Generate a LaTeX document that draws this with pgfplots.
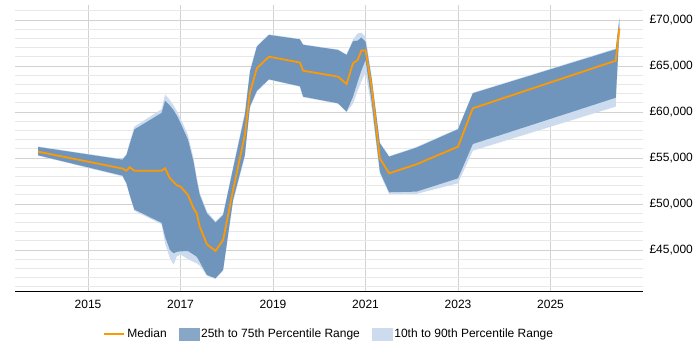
\documentclass[border=0pt]{standalone}
\usepackage{fontspec}
\setmainfont{Liberation Sans}
\usepackage{pgfplots}
\pgfplotsset{compat=1.18}
\usepgfplotslibrary{fillbetween}
\usepackage{pgfplotstable}

\definecolor{iqrband}{RGB}{111,149,189}
\definecolor{iqrkey}{RGB}{136,166,198}
\definecolor{outerband}{RGB}{204,220,238}
\definecolor{median}{RGB}{255,153,0}
\definecolor{gridmajor}{RGB}{210,210,210}
\definecolor{gridminor}{RGB}{232,232,232}

% salary percentiles by date (GBP)
\pgfplotstableread{
x        p10    p25    med    p75    p90
2013.92  55250  55290  55685  56196  56250
2015.744 53000  53080  53850  54820  54880
2015.83  52150  52250  53620  55330  55400
2015.90  50900  51000  53990  56500  56700
2016.00  49250  49400  53620  58100  58400
2016.59  47800  47950  53620  59900  60300
2016.665 45720  46450  53880  61230  61900
2016.77  44100  45000  52790  60700  61300
2016.85  43400  44640  52400  60200  60700
2016.92  44300  44800  52030  59600  60100
2017.00  44500  44850  51880  58800  59300
2017.16  44000  44880  50980  57000  57500
2017.28  43700  44500  49530  54600  55000
2017.35  43550  44270  48990  52600  52900
2017.415 43300  43700  47530  50980  51200
2017.57  42200  42280  45610  48990  49200
2017.755 41850  41920  44890  47970  48100
2017.92  42750  42830  46090  48800  48900
2018.135 50200  50430  51490  53840  54000
2018.39  55100  55330  57500  59670  60000
2018.50  60400  60600  62100  64380  64500
2018.65  62200  62300  64750  67100  67200
2018.91  63500  63550  66010  68370  68450
2019.58  62750  62800  65380  67900  67950
2019.65  61600  61670  64490  67300  67350
2020.405 60900  60940  63840  66740  66800
2020.59  60000  60040  63040  66200  66250
2020.73  60900  61670  65300  67700  67900
2020.83  62300  63290  65650  67760  68550
2020.91  63300  64500  66670  68100  68600
2021.00  64300  65650  66700  67650  68200
2021.13  60500  61200  62750  63700  64000
2021.31  53300  53500  54960  56600  56700
2021.51  51090  51270  53330  55140  55200
2022.10  51090  51340  54310  56120  56200
2023.00  52250  52790  56230  58120  58200
2023.32  55790  56520  60400  62030  62100
2026.41  60580  61550  65580  66810  66900
2026.49  68500  68800  69090  70200  70200
}\salary

\begin{document}
\begin{tikzpicture}[font=\fontsize{12}{14}\selectfont]
\begin{axis}[
  at={(0pt,0pt)}, anchor=south west,
  scale only axis, width=628pt, height=287pt,
  xmin=2013.42, xmax=2027.0,
  ymin=40430, ymax=71630,
  scaled y ticks=false, scaled x ticks=false,
  axis x line*=bottom,
  axis y line*=right,
  y axis line style={draw=none},
  x axis line style={black, line width=1pt},
  xtick={2015,2017,...,2025},
  xticklabels={2015,2017,2019,2021,2023,2025},
  ytick={45000,50000,...,70000},
  yticklabels={{£45,000},{£50,000},{£55,000},{£60,000},{£65,000},{£70,000}},
  minor ytick={41000,42000,...,71000},
  major tick length=0pt, minor tick length=0pt,
  xmajorgrids, ymajorgrids, yminorgrids,
  major grid style={gridmajor, line width=0.8pt},
  minor grid style={gridminor, line width=0.8pt},
  yticklabel pos=right,
  yticklabel style={anchor=west, xshift=3pt},
  xticklabel style={yshift=-5pt},
  legend style={at={(0.5,0)}, anchor=center, yshift=-42pt, draw=none, fill=none,
    legend columns=3,
    /tikz/every even column/.append style={column sep=10pt}},
  legend cell align=left,
]
\addlegendimage{legend image code/.code={\draw[median, line width=2.5pt] (0pt,0pt) -- (20pt,0pt);}}
\addlegendimage{legend image code/.code={\fill[iqrkey] (0pt,-6pt) rectangle (20pt,6pt);}}
\addlegendimage{legend image code/.code={\fill[outerband] (0pt,-6pt) rectangle (20pt,6pt);}}
\legend{Median, 25th to 75th Percentile Range, 10th to 90th Percentile Range}

\addplot[name path=p90, draw=none, forget plot] table[x=x, y=p90] {\salary};
\addplot[name path=p10, draw=none, forget plot] table[x=x, y=p10] {\salary};
\addplot[name path=p75, draw=none, forget plot] table[x=x, y=p75] {\salary};
\addplot[name path=p25, draw=none, forget plot] table[x=x, y=p25] {\salary};
\addplot[outerband, forget plot] fill between[of=p90 and p10];
\addplot[iqrband, forget plot] fill between[of=p75 and p25];
\addplot[median, line width=1.8pt, forget plot] table[x=x, y=med] {\salary};
\end{axis}
% page frame: 700 x 350
\path (-15pt,-58pt) rectangle (685pt,292pt);
\end{tikzpicture}
\end{document}
